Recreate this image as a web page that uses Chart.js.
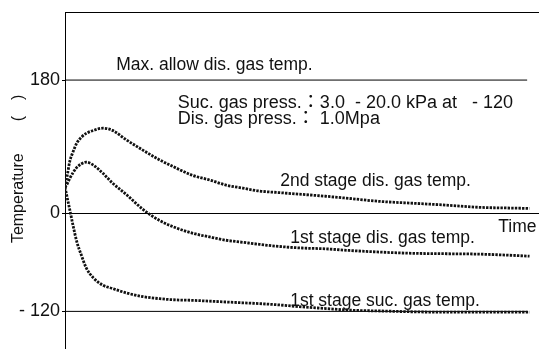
<!DOCTYPE html>
<html>
<head>
<meta charset="utf-8">
<title>Compressor gas temperatures</title>
<script src="https://cdn.jsdelivr.net/npm/chart.js@4.4.1/dist/chart.umd.min.js"></script>
<style>
  html, body { margin: 0; padding: 0; background: #fff; }
  #wrap { width: 539px; height: 349px; }
</style>
</head>
<body>
<div id="wrap"><canvas id="chart"></canvas></div>
<script>
// time axis, arbitrary units (0..100 across the plot)
const time = [0, 0.5, 1, 1.7, 2.5, 3.5, 4.5, 6, 8, 10, 13, 16.5, 20, 23.5, 27, 30.5, 34, 37.5, 41, 45, 50, 55, 60, 66.5, 73.5, 80.5, 87.5, 94.5, 98];

// temperatures, deg C
const secondStageDis = [35, 52, 70, 83, 95, 103, 108, 112, 115, 112, 99, 85, 72, 61, 51, 45, 38, 34, 30, 28, 25.5, 23, 20, 16, 13.5, 11, 8, 7, 6.5];
const firstStageDis = [35, 40, 47, 55, 62, 67, 69, 65, 54, 41, 25, 5, -9, -18, -24.5, -29, -33, -35.5, -38, -40.5, -42.5, -43.5, -45.5, -47.5, -49, -49.5, -50, -51.5, -52.5];
const firstStageSuc = [35, 20, 5, -15, -35, -52, -67, -79, -88, -92, -97.5, -102, -104.5, -106, -106.5, -107.5, -108.5, -109.5, -110.5, -112, -114.5, -116.5, -118.5, -119.5, -120.5, -121, -121, -121, -121];

// reference lines
const refLineTime = [0, 97.5];
const maxAllowDisTemp = 180;
const sucRefTemp = -120;

const yTicks = [180, 0, -120];
const yTop = 272;
const yBottom = -166;

// the figure draws the sub-zero part of the axis a little taller than the upper part
const LOWER_STRETCH = 1.105;

class StretchedLinearScale extends Chart.LinearScale {
    static id = 'stretchedLinear';
    static defaults = Chart.LinearScale.defaults;
    getPixelForValue(v) {
        if (v === null || v === undefined) return NaN;
        return super.getPixelForValue(v < 0 ? v * LOWER_STRETCH : v);
    }
    getValueForPixel(p) {
        const d = super.getValueForPixel(p);
        return d < 0 ? d / LOWER_STRETCH : d;
    }
}
Chart.register(StretchedLinearScale);

const FONT = "'Liberation Sans', Arial, 'Noto Sans CJK JP', sans-serif";

const figureLabels = [
    { text: 'Max. allow dis. gas temp.', x: 10.8, y: 193.5, size: 17.5 },
    { text: 'Suc. gas press.\uFF1A3.0  - 20.0 kPa at   - 120', x: 23.8, y: 142, size: 18 },
    { text: 'Dis. gas press.\uFF1A 1.0Mpa', x: 23.8, y: 120.4, size: 18 },
    { text: '2nd stage dis. gas temp.', x: 45.4, y: 36.5, size: 17.5 },
    { text: '1st stage dis. gas temp.', x: 47.5, y: -36.7, size: 17.5 },
    { text: '1st stage suc. gas temp.', x: 47.5, y: -113.8, size: 17.5 },
    { text: 'Time', x: 91.4, y: -23.3, size: 17.5 },
];

const figureText = {
    id: 'figureText',
    afterDatasetsDraw(chart) {
        const { ctx, scales: { x, y } } = chart;
        ctx.save();
        ctx.fillStyle = '#111';
        ctx.textBaseline = 'alphabetic';
        ctx.textAlign = 'left';
        figureLabels.forEach(l => {
            ctx.font = `${l.size}px ${FONT}`;
            ctx.fillText(l.text, x.getPixelForValue(l.x), y.getPixelForValue(l.y));
        });
        // y title
        ctx.translate(19, y.getPixelForValue(60));
        ctx.rotate(-Math.PI / 2);
        ctx.textAlign = 'center';
        ctx.textBaseline = 'middle';
        ctx.font = `16px ${FONT}`;
        ctx.fillText('Temperature\u2003\u2003(\u2003)', 0, 0);
        ctx.restore();
    }
};

const toPoints = (ys) => time.map((t, i) => ({ x: t, y: ys[i] }));
const flatLine = (v) => refLineTime.map(t => ({ x: t, y: v }));

const curve = {
    borderColor: '#111',
    borderWidth: 2.8,
    borderDash: [2.4, 1.2],
    borderCapStyle: 'butt',
    pointRadius: 0,
    cubicInterpolationMode: 'monotone',
    fill: false,
};
const refLine = { borderColor: '#000', borderWidth: 1, pointRadius: 0, fill: false };

new Chart(document.getElementById('chart'), {
    type: 'line',
    data: {
        datasets: [
            { ...curve, label: '2nd stage dis. gas temp.', data: toPoints(secondStageDis) },
            { ...curve, label: '1st stage dis. gas temp.', data: toPoints(firstStageDis) },
            { ...curve, label: '1st stage suc. gas temp.', data: toPoints(firstStageSuc) },
            { ...refLine, label: 'Max. allow dis. gas temp.', data: flatLine(maxAllowDisTemp) },
            { ...refLine, label: 'suc ref', data: flatLine(sucRefTemp) },
        ],
    },
    options: {
        responsive: true,
        maintainAspectRatio: false,
        animation: false,
        layout: { padding: { top: 12, left: 0, right: 0, bottom: 0 } },
        plugins: { legend: { display: false }, tooltip: { enabled: false } },
        scales: {
            x: {
                type: 'linear', min: 0, max: 100, bounds: 'data',
                position: { y: 0 },
                ticks: { display: false },
                grid: { display: false },
                border: { display: true, color: '#000', width: 1 },
                afterFit: (s) => { s.height = 0; s.paddingLeft = 0; s.paddingRight = 0; },
            },
            x2: {
                type: 'linear', min: 0, max: 100, bounds: 'data',
                position: 'top',
                ticks: { display: false },
                grid: { display: false },
                border: { display: true, color: '#000', width: 1 },
                afterFit: (s) => { s.height = 0; s.paddingLeft = 0; s.paddingRight = 0; },
            },
            y: {
                type: 'stretchedLinear',
                min: yBottom * LOWER_STRETCH,
                max: yTop,
                bounds: 'data',
                afterBuildTicks: (s) => { s.ticks = yTicks.map(v => ({ value: v })); },
                afterFit: (s) => { s.width = 65; s.paddingTop = 0; s.paddingBottom = 0; },
                ticks: {
                    color: '#111',
                    padding: 2,
                    font: { family: FONT, size: 18 },
                    callback: (v) => v < 0 ? '- ' + (-v) : String(v),
                },
                grid: { drawOnChartArea: false, tickLength: 3, color: '#000' },
                border: { display: true, color: '#000', width: 1 },
            },
        },
    },
    plugins: [figureText],
});
</script>
</body>
</html>
